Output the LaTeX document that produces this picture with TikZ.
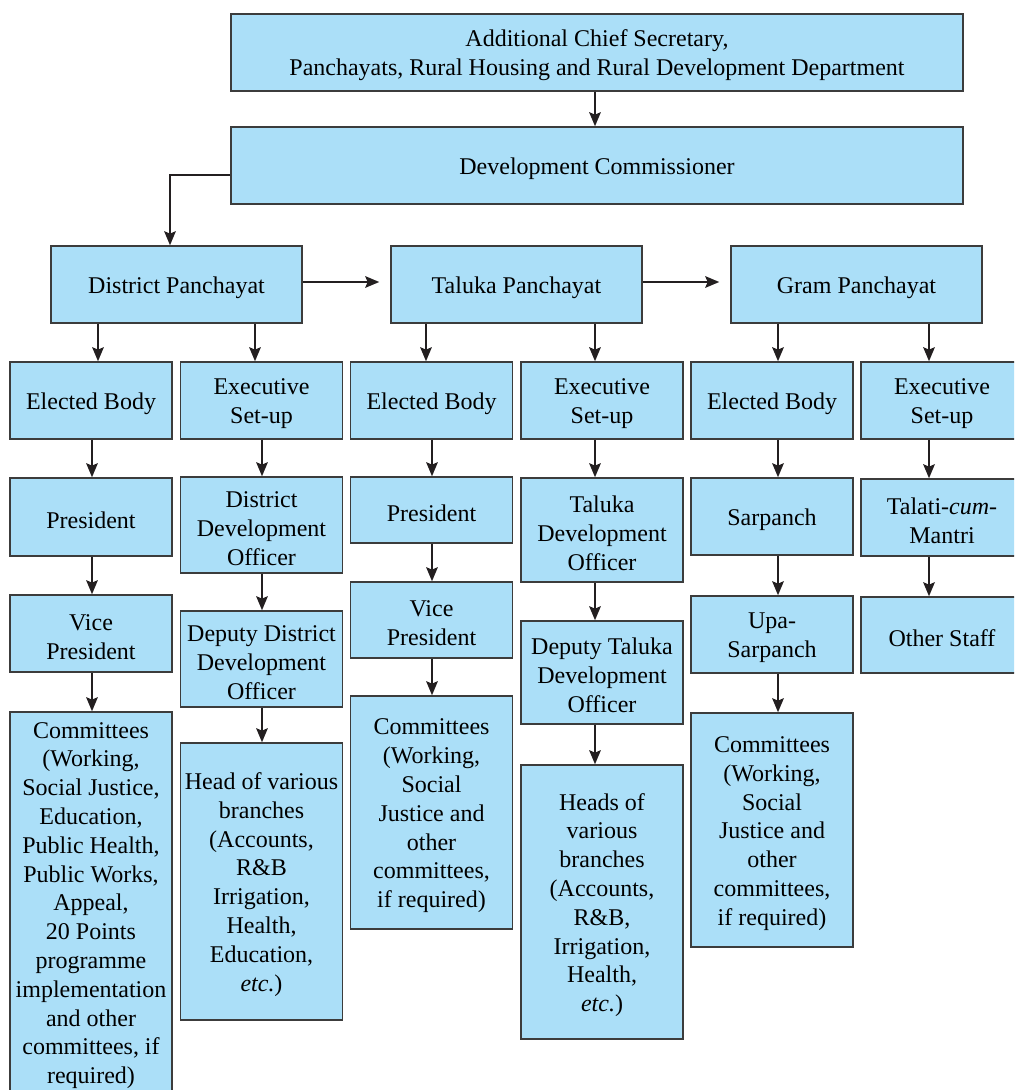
\documentclass[tikz,border=0pt]{standalone}
\usepackage{fontspec}
\setmainfont{Liberation Serif}
\usetikzlibrary{arrows.meta}

\definecolor{boxfill}{RGB}{171,223,248}
\definecolor{boxline}{RGB}{60,60,60}
\definecolor{arrowc}{RGB}{35,31,32}

% strut for the first line of a box
\newcommand{\firstln}{\rule{0pt}{11.4pt}}

\tikzset{
  box/.style={draw=boxline, fill=boxfill, line width=0.75pt, shape=rectangle, align=center,
    inner sep=1pt, font=\fontsize{12}{14.4}\selectfont,
    execute at begin node={\rule{0pt}{11.2pt}}},
  col/.style={box, minimum width=81pt},
  arr/.style={draw=arrowc, line width=1pt, -{Stealth[length=7pt,width=5.8pt,inset=1.2pt]}}
}

\begin{document}
\begin{tikzpicture}[x=0.5pt, y=-0.5pt]
\useasboundingbox (0,0) rectangle (1014,1090);
\clip (0,0) rectangle (1014,1090);

% top of the chart
\node[box, minimum width=366pt, minimum height=38.5pt] (acs) at (597,52.5)
  {\firstln Additional Chief Secretary,\\Panchayats, Rural Housing and Rural Development Department};
\node[box, minimum width=366pt, minimum height=38.5pt] (dc) at (597,165.5) {Development Commissioner};

% panchayats
\node[box, minimum width=125.5pt, minimum height=38.5pt] (dp) at (176.5,284.5) {District Panchayat};
\node[box, minimum width=125.5pt, minimum height=38.5pt] (tp) at (516.5,284.5) {Taluka Panchayat};
\node[box, minimum width=125.5pt, minimum height=38.5pt] (gp) at (856.5,284.5) {Gram Panchayat};

% second row
\node[col, minimum height=38.5pt] (eb1) at (91,400.5) {Elected Body};
\node[col, minimum height=38.5pt] (ex1) at (261.5,400.5) {\firstln Executive\\Set-up};
\node[col, minimum height=38.5pt] (eb2) at (431.5,400.5) {Elected Body};
\node[col, minimum height=38.5pt] (ex2) at (602,400.5) {\firstln Executive\\Set-up};
\node[col, minimum height=38.5pt] (eb3) at (772,400.5) {Elected Body};
\node[col, minimum height=38.5pt] (ex3) at (942,400.5) {\firstln Executive\\Set-up};

% district columns
\node[col, minimum height=39pt] (pres1) at (91,517) {President};
\node[col, minimum height=38.5pt] (vp1) at (91,633.5) {\firstln Vice\\President};
\node[col, minimum height=190pt] (com1) at (91,902)
  {\firstln Committees\\(Working,\\Social Justice,\\Education,\\Public Health,\\Public Works,\\Appeal,\\20 Points\\programme\\implementation\\and other\\committees, if\\required)};
\node[col, minimum height=48pt] (ddo) at (261.5,525) {\firstln District\\Development\\Officer};
\node[col, minimum height=48pt] (dddo) at (261.5,659) {\firstln Deputy District\\Development\\Officer};
\node[col, minimum height=138.5pt] (hod) at (261.5,881.5)
  {\firstln Head of various\\branches\\(Accounts,\\R\&B\\Irrigation,\\Health,\\Education,\\\textit{etc.})};

% taluka columns
\node[col, minimum height=33pt] (pres2) at (431.5,510) {President};
\node[col, minimum height=38pt] (vp2) at (431.5,620) {\firstln Vice\\President};
\node[col, minimum height=116.5pt] (com2) at (431.5,812.5)
  {\firstln Committees\\(Working,\\Social\\Justice and\\other\\committees,\\if required)};
\node[col, minimum height=52pt] (tdo) at (602,530) {\firstln Taluka\\Development\\Officer};
\node[col, minimum height=51.5pt] (dtdo) at (602,672.5) {\firstln Deputy Taluka\\Development\\Officer};
\node[col, minimum height=137pt] (hob) at (602,902)
  {\firstln Heads of\\various\\branches\\(Accounts,\\R\&B,\\Irrigation,\\Health,\\\textit{etc.})};

% gram columns
\node[col, minimum height=38.5pt] (sar) at (772,516.5) {Sarpanch};
\node[col, minimum height=38.5pt] (upa) at (772,634.5) {\firstln Upa-\\Sarpanch};
\node[col, minimum height=117pt] (com3) at (772,830)
  {\firstln Committees\\(Working,\\Social\\Justice and\\other\\committees,\\if required)};
\node[col, minimum height=38.5pt] (tcm) at (942,517.5) {\firstln Talati-\textit{cum}-\\Mantri};
\node[col, minimum height=38pt] (oth) at (942,635) {Other Staff};

% lines of the arrows
\coordinate (c1) at (92,0);
\coordinate (c2) at (262,0);
\coordinate (c3) at (432,0);
\coordinate (c4) at (595,0);
\coordinate (c5) at (778,0);
\coordinate (c6) at (929,0);
\coordinate (p1) at (98,0);
\coordinate (p2) at (255,0);
\coordinate (p3) at (426,0);
\coordinate (k) at (170,175);
\coordinate (h) at (0,282);

\draw[arr] (acs.south -| c4) -- (dc.north -| c4);
\draw[arr] (dc.west |- k) -| (dp.north -| k);
\draw[arr, shorten >=5.5pt] (dp.east |- h) -- (tp.west |- h);
\draw[arr, shorten >=5.5pt] (tp.east |- h) -- (gp.west |- h);

\foreach \a/\b/\c in {dp/eb1/p1, dp/ex1/p2, tp/eb2/p3, tp/ex2/c4, gp/eb3/c5, gp/ex3/c6}
  \draw[arr] (\a.south -| \c) -- (\b.north -| \c);

\foreach \a/\b/\c in {eb1/pres1/c1, pres1/vp1/c1, vp1/com1/c1,
    ex1/ddo/c2, ddo/dddo/c2, dddo/hod/c2,
    eb2/pres2/c3, pres2/vp2/c3, vp2/com2/c3,
    ex2/tdo/c4, tdo/dtdo/c4, dtdo/hob/c4,
    eb3/sar/c5, sar/upa/c5, upa/com3/c5,
    ex3/tcm/c6, tcm/oth/c6}
  \draw[arr] (\a.south -| \c) -- (\b.north -| \c);
\end{tikzpicture}
\end{document}
